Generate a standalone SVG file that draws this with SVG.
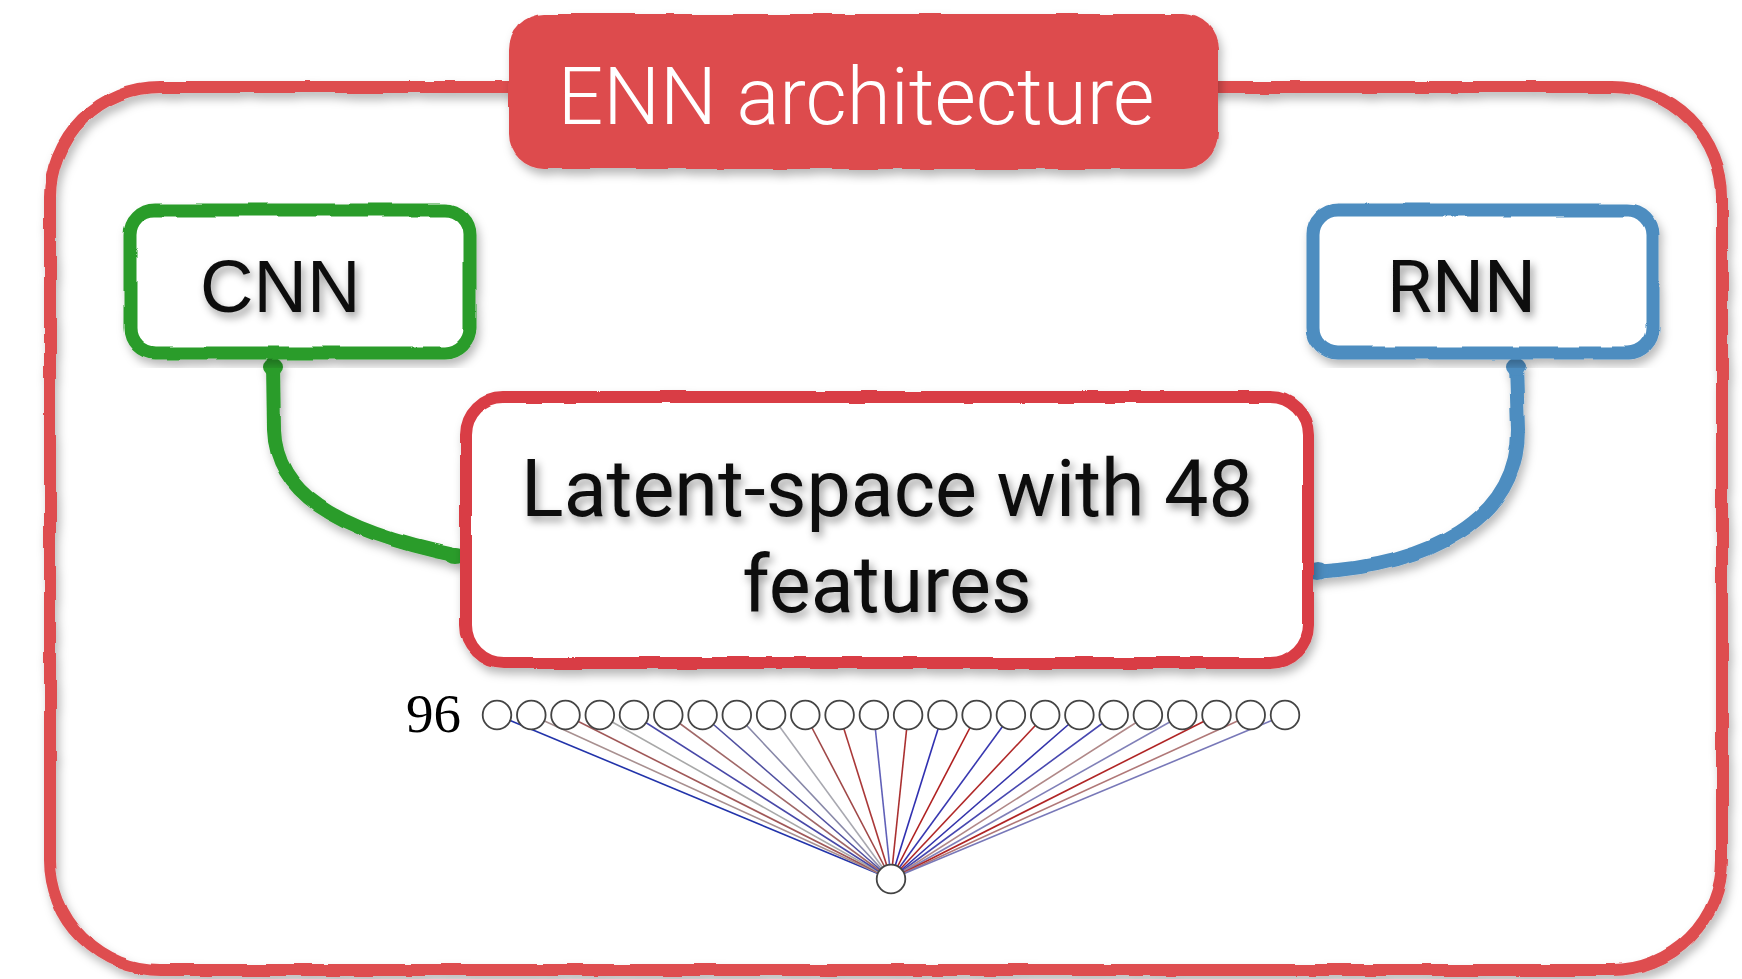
<svg xmlns="http://www.w3.org/2000/svg" width="1742" height="979" viewBox="0 0 1742 979">
<defs>
<filter id="rough" x="-5%" y="-5%" width="112%" height="115%">
<feTurbulence type="fractalNoise" baseFrequency="0.025" numOctaves="2" seed="4" result="n"/>
<feDisplacementMap in="SourceGraphic" in2="n" scale="4" xChannelSelector="R" yChannelSelector="G" result="d"/>
<feDropShadow in="d" dx="3" dy="6" stdDeviation="5" flood-color="#000" flood-opacity="0.28"/>
</filter>
<filter id="tshadow" x="-10%" y="-20%" width="125%" height="150%">
<feDropShadow dx="3" dy="5" stdDeviation="4" flood-color="#000" flood-opacity="0.4"/>
</filter>
<style>
.frame{fill:none;stroke:#de4d50;stroke-width:12;stroke-linejoin:round}
.latent{fill:#fff;stroke:#d93d44;stroke-width:12}
.cnn{fill:#fff;stroke:#2a9c2a;stroke-width:13}
.rnn{fill:#fff;stroke:#4d8dc0;stroke-width:13}
.conn{fill:none;stroke-width:14;stroke-linecap:round}
.lbl{font-family:Roboto,"Liberation Sans",sans-serif;fill:#111}
.nn{fill:#fff;stroke:#444;stroke-width:1.8}
.lk{stroke-width:1.6;fill:none}
</style>
</defs>
<rect width="1742" height="979" fill="#fff"/>

<g id="frame" filter="url(#rough)">
<rect class="frame" x="50" y="87" width="1672" height="883" rx="110"/>
</g>

<g id="title" filter="url(#rough)">
<rect x="509" y="14" width="709" height="155" rx="35" fill="#dd4b4e"/>
</g>
<text x="856" y="124" text-anchor="middle" font-family="Roboto,'Liberation Sans',sans-serif" font-weight="300" font-size="80" fill="#fff">ENN architecture</text>

<g id="connectors" filter="url(#rough)">
<path class="conn" stroke="#2a9c2a" d="M273,364 L274,430 C276,490 330,530 458,556"/>
<ellipse cx="273" cy="367" rx="10" ry="9" fill="#2a9c2a"/>
<ellipse cx="455" cy="556" rx="11" ry="8" fill="#2a9c2a"/>
<path class="conn" stroke="#4d8dc0" d="M1516,364 L1518,430 C1518,520 1430,565 1315,572"/>
<ellipse cx="1516" cy="367" rx="10" ry="9" fill="#4d8dc0"/>
<ellipse cx="1318" cy="571" rx="11" ry="9" fill="#4d8dc0"/>
</g>

<g id="cnn">
<rect class="cnn" x="130" y="210" width="340" height="143" rx="25" filter="url(#rough)"/>
<text x="200" y="312" font-family="'Liberation Sans',Arial,sans-serif" font-size="74" fill="#111" filter="url(#tshadow)">CNN</text>
</g>

<g id="rnn">
<rect class="rnn" x="1313" y="210" width="340" height="143" rx="25" filter="url(#rough)"/>
<text x="1387" y="312" class="lbl" font-size="73" filter="url(#tshadow)">RNN</text>
</g>

<g id="latent">
<rect class="latent" x="466" y="397" width="842" height="266" rx="38" filter="url(#rough)"/>
<g filter="url(#tshadow)">
<text x="887" y="516" text-anchor="middle" class="lbl" font-size="79">Latent-space with 48</text>
<text x="887" y="612" text-anchor="middle" class="lbl" font-size="79">features</text>
</g>
</g>

<g id="nn-links">
<line class="lk" x1="497" y1="715" x2="891" y2="879" stroke="#2233aa"/>
<line class="lk" x1="531.3" y1="715" x2="891" y2="879" stroke="#a89090"/>
<line class="lk" x1="565.5" y1="715" x2="891" y2="879" stroke="#a05858"/>
<line class="lk" x1="599.8" y1="715" x2="891" y2="879" stroke="#a8a8a8"/>
<line class="lk" x1="634" y1="715" x2="891" y2="879" stroke="#4848a8"/>
<line class="lk" x1="668.3" y1="715" x2="891" y2="879" stroke="#a06868"/>
<line class="lk" x1="702.6" y1="715" x2="891" y2="879" stroke="#5050a0"/>
<line class="lk" x1="736.8" y1="715" x2="891" y2="879" stroke="#8888a8"/>
<line class="lk" x1="771.1" y1="715" x2="891" y2="879" stroke="#a8a8b0"/>
<line class="lk" x1="805.3" y1="715" x2="891" y2="879" stroke="#a04848"/>
<line class="lk" x1="839.6" y1="715" x2="891" y2="879" stroke="#aa3838"/>
<line class="lk" x1="873.9" y1="715" x2="891" y2="879" stroke="#6060b8"/>
<line class="lk" x1="908.1" y1="715" x2="891" y2="879" stroke="#aa3030"/>
<line class="lk" x1="942.4" y1="715" x2="891" y2="879" stroke="#3030b0"/>
<line class="lk" x1="976.6" y1="715" x2="891" y2="879" stroke="#b02020"/>
<line class="lk" x1="1010.9" y1="715" x2="891" y2="879" stroke="#3838b0"/>
<line class="lk" x1="1045.2" y1="715" x2="891" y2="879" stroke="#b02828"/>
<line class="lk" x1="1079.4" y1="715" x2="891" y2="879" stroke="#3333aa"/>
<line class="lk" x1="1113.7" y1="715" x2="891" y2="879" stroke="#4848b0"/>
<line class="lk" x1="1147.9" y1="715" x2="891" y2="879" stroke="#b08888"/>
<line class="lk" x1="1182.2" y1="715" x2="891" y2="879" stroke="#8080b8"/>
<line class="lk" x1="1216.5" y1="715" x2="891" y2="879" stroke="#b02525"/>
<line class="lk" x1="1250.7" y1="715" x2="891" y2="879" stroke="#b07878"/>
<line class="lk" x1="1285" y1="715" x2="891" y2="879" stroke="#7878b8"/>
</g>

<g id="nn-input">
<circle class="nn" cx="497" cy="715" r="14.3"/>
<circle class="nn" cx="531.3" cy="715" r="14.3"/>
<circle class="nn" cx="565.5" cy="715" r="14.3"/>
<circle class="nn" cx="599.8" cy="715" r="14.3"/>
<circle class="nn" cx="634" cy="715" r="14.3"/>
<circle class="nn" cx="668.3" cy="715" r="14.3"/>
<circle class="nn" cx="702.6" cy="715" r="14.3"/>
<circle class="nn" cx="736.8" cy="715" r="14.3"/>
<circle class="nn" cx="771.1" cy="715" r="14.3"/>
<circle class="nn" cx="805.3" cy="715" r="14.3"/>
<circle class="nn" cx="839.6" cy="715" r="14.3"/>
<circle class="nn" cx="873.9" cy="715" r="14.3"/>
<circle class="nn" cx="908.1" cy="715" r="14.3"/>
<circle class="nn" cx="942.4" cy="715" r="14.3"/>
<circle class="nn" cx="976.6" cy="715" r="14.3"/>
<circle class="nn" cx="1010.9" cy="715" r="14.3"/>
<circle class="nn" cx="1045.2" cy="715" r="14.3"/>
<circle class="nn" cx="1079.4" cy="715" r="14.3"/>
<circle class="nn" cx="1113.7" cy="715" r="14.3"/>
<circle class="nn" cx="1147.9" cy="715" r="14.3"/>
<circle class="nn" cx="1182.2" cy="715" r="14.3"/>
<circle class="nn" cx="1216.5" cy="715" r="14.3"/>
<circle class="nn" cx="1250.7" cy="715" r="14.3"/>
<circle class="nn" cx="1285" cy="715" r="14.3"/>
<text x="406" y="732" font-family="'Liberation Serif','Times New Roman',serif" font-size="55" fill="#000">96</text>
</g>

<g id="nn-output">
<circle class="nn" cx="891" cy="879" r="14.3"/>
</g>
</svg>
